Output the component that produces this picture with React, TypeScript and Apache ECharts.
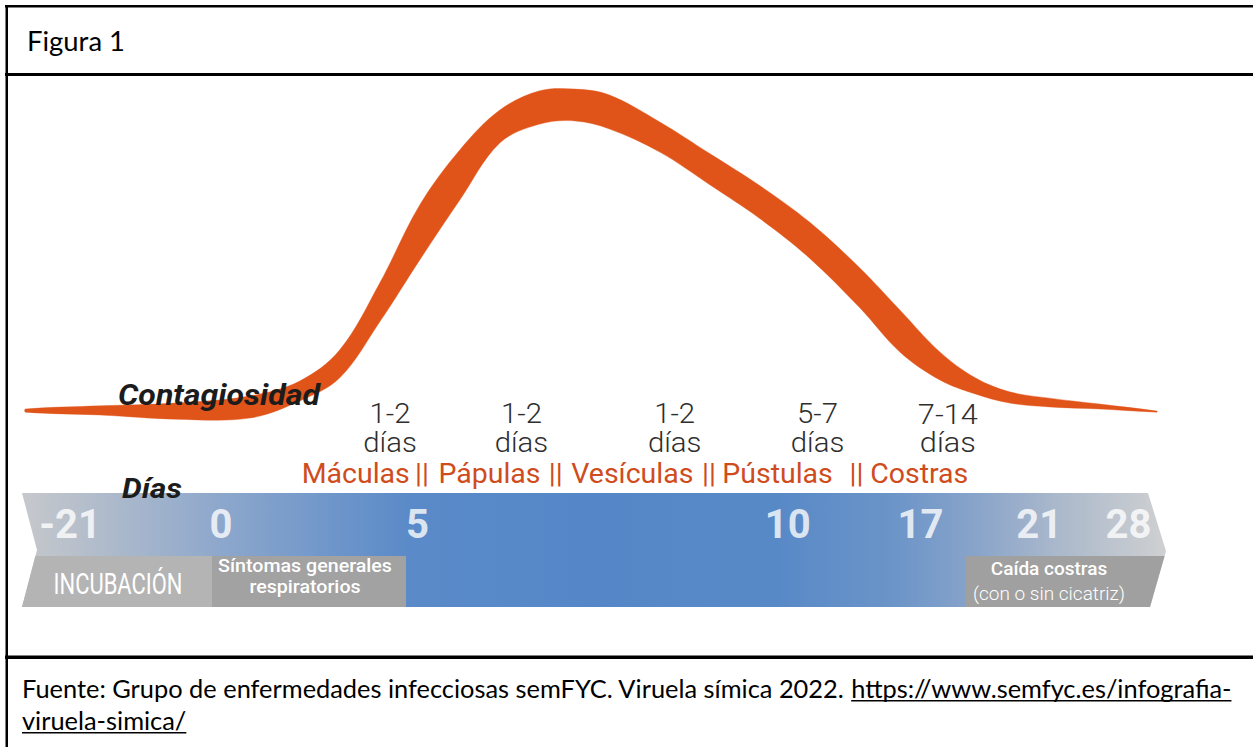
import React, { useEffect, useRef } from "react";
import * as echarts from "echarts";

// Curve samples: position along the day arrow (0-100) and the two edges of the contagiousness ribbon (0-100)
const curveX = [0.3, 6.8, 13.4, 19.9, 24.3, 27.8, 31.3, 34.8, 38.3, 41.8, 45.3, 48.4, 51.4, 55.8, 60.2, 64.6, 68.9, 73.3, 76.8, 80.3, 83.4, 86.4, 89.9, 94.3, 99.3];
const upperEdge = [6.0, 6.9, 7.7, 9.7, 14.0, 22.9, 42.0, 64.3, 80.0, 91.4, 96.9, 97.4, 95.7, 88.0, 78.9, 69.7, 59.4, 46.3, 34.3, 22.3, 14.9, 10.9, 9.1, 7.4, 5.4];
const lowerEdge = [5.1, 4.3, 3.1, 3.4, 8.3, 14.9, 30.9, 48.6, 65.7, 82.0, 87.4, 88.3, 86.0, 79.4, 70.0, 60.3, 49.1, 34.9, 22.3, 14.3, 10.3, 7.7, 6.6, 6.0, 5.1];

// Day ticks on the arrow
const dayTicks = ["-21", "0", "5", "10", "17", "21", "28"];
const dayTickPos = [4.2, 17.4, 34.6, 67.0, 78.6, 89.0, 96.8];

// Lesion phases and their durations
const phases = ["Máculas", "Pápulas", "Vesículas", "Pústulas", "Costras"];
const phasePos = [29.2, 40.9, 53.4, 66.1, 78.5];
const phaseSepPos = [35.0, 46.7, 60.1, 73.0];
const durations = ["1-2", "1-2", "1-2", "5-7", "7-14"];
const durationPos = [32.2, 43.7, 57.1, 69.6, 81.0];

const titleText = "Figura 1";
const captionPlain = "Fuente: Grupo de enfermedades infecciosas semFYC. Viruela símica 2022. ";
const captionLink1 = "https://www.semfyc.es/infografia-";
const captionLink2 = "viruela-simica/";

const ORANGE = "#e0541a";
const PHASE_RED = "#cf4c1d";

function measure(text: string, font: string): number {
  const c = document.createElement("canvas").getContext("2d") as CanvasRenderingContext2D;
  c.font = font;
  return c.measureText(text).width;
}

function txt(text: string, x: number, y: number, o: any = {}) {
  const fontSize = o.fontSize || 20;
  const fontFamily = o.fontFamily || "Roboto";
  const fontWeight = o.fontWeight || "normal";
  const fontStyle = o.fontStyle || "normal";
  let scaleX = 1;
  if (o.fitWidth) {
    const w = measure(o.measureText || text.split("\n")[0], `${fontStyle} ${fontWeight} ${fontSize}px ${fontFamily}`);
    scaleX = o.fitWidth / w;
  }
  const align = o.align || "center";
  const style: any = {
    text,
    x: 0,
    y: 0,
    fill: o.fill || "#000",
    fontSize,
    fontFamily,
    fontWeight,
    fontStyle,
    opacity: o.opacity == null ? 1 : o.opacity,
    align,
    textAlign: align,
    verticalAlign: "middle",
    textVerticalAlign: "middle",
  };
  if (o.lineHeight) style.lineHeight = o.lineHeight;
  if (o.rich) style.rich = o.rich;
  return { type: "text", x, y, scaleX, z: 100, silent: true, style };
}

export default function App() {
  const ref = useRef<HTMLDivElement>(null);
  useEffect(() => {
    document.body.style.margin = "0";
    const el = ref.current as HTMLDivElement;
    const chart = echarts.init(el, null, { renderer: "svg" });
    const GL = 22;
    const GR = 1253 - 1165;
    chart.setOption({
      animation: false,
      backgroundColor: "#ffffff",
      grid: [
        { left: GL, right: GR, top: 80, height: 350 },
        { left: GL, right: GR, top: 493, height: 114 },
      ],
      xAxis: [
        { type: "value", gridIndex: 0, min: 0, max: 100, show: false },
        { type: "value", gridIndex: 1, min: 0, max: 100, show: false },
      ],
      yAxis: [
        { type: "value", gridIndex: 0, min: 0, max: 100, show: false },
        { type: "value", gridIndex: 1, min: 0, max: 1, show: false },
      ],
      series: [
        {
          // contagiousness ribbon between its upper and lower edge
          type: "custom",
          xAxisIndex: 0,
          yAxisIndex: 0,
          z: 2,
          clip: false,
          silent: true,
          data: [[curveX[0], lowerEdge[0]]],
          renderItem: (_params: any, api: any) => {
            const top = curveX.map((x, i) => api.coord([x, upperEdge[i]]));
            const bottom = curveX.map((x, i) => api.coord([x, lowerEdge[i]])).reverse();
            return {
              type: "polygon",
              shape: { points: top.concat(bottom), smooth: 0.35 },
              style: { fill: ORANGE, stroke: ORANGE, lineWidth: 0.4 },
            };
          },
        },
        {
          type: "scatter",
          xAxisIndex: 1,
          yAxisIndex: 1,
          z: 10,
          symbolSize: 1,
          itemStyle: { color: "rgba(0,0,0,0)" },
          data: dayTickPos.map((t) => [t, 0.72]),
          label: {
            show: true,
            position: "inside",
            formatter: (p: any) => dayTicks[p.dataIndex],
            color: "#ffffff",
            fontFamily: "Roboto",
            fontWeight: "bold",
            fontSize: 40,
          },
          silent: true,
        },
      ],
    });

    const px = (t: number) => chart.convertToPixel({ xAxisIndex: 0 }, t) as number;

    // caption sizing
    const capBase = 24;
    const capW = measure(captionPlain + captionLink1, `${capBase}px Lato`);
    const capFs = (capBase * 1210) / capW;
    const plainW = measure(captionPlain, `${capFs}px Lato`);
    const link1W = measure(captionLink1, `${capFs}px Lato`);
    const link2W = measure(captionLink2, `${capFs}px Lato`);
    const titleFs = (27 * 98) / measure(titleText, `27px Lato`);

    const bandFill = {
      type: "linear",
      x: 0,
      y: 0,
      x2: 1,
      y2: 0,
      colorStops: [
        { offset: 0, color: "#c6c8cb" },
        { offset: 0.06, color: "#b3bdcb" },
        { offset: 0.17, color: "#8ea8cc" },
        { offset: 0.27, color: "#6f96ca" },
        { offset: 0.34, color: "#5a8ac8" },
        { offset: 0.5, color: "#5587c8" },
        { offset: 0.66, color: "#5889c7" },
        { offset: 0.76, color: "#6b94c8" },
        { offset: 0.83, color: "#87a3ca" },
        { offset: 0.9, color: "#a8b7cb" },
        { offset: 1, color: "#cfd0d1" },
      ],
    };

    const graphic: any[] = [
      // frame
      { type: "rect", z: 50, silent: true, shape: { x: 5, y: 5, width: 1248, height: 2.5 }, style: { fill: "#000" } },
      { type: "rect", z: 50, silent: true, shape: { x: 5, y: 73, width: 1248, height: 3 }, style: { fill: "#000" } },
      { type: "rect", z: 50, silent: true, shape: { x: 5, y: 655.5, width: 1248, height: 3.5 }, style: { fill: "#000" } },
      { type: "rect", z: 50, silent: true, shape: { x: 5.5, y: 5, width: 2.5, height: 742 }, style: { fill: "#000" } },
      txt(titleText, 27, 40, { fontFamily: "Lato", fontSize: titleFs, align: "left", fill: "#000" }),
      // day arrow
      {
        type: "polygon",
        z: 1,
        silent: true,
        shape: { points: [[22, 493], [1148, 493], [1166, 551], [1150, 607], [22, 607], [37, 550]] },
        style: { fill: bandFill },
      },
      { type: "polygon", z: 2, silent: true, shape: { points: [[35.4, 556], [212, 556], [212, 607], [22, 607]] }, style: { fill: "#b4b4b4" } },
      { type: "polygon", z: 2, silent: true, shape: { points: [[212, 556], [406, 556], [406, 607], [212, 607]] }, style: { fill: "#a2a2a2" } },
      { type: "polygon", z: 2, silent: true, shape: { points: [[966, 556], [1164.6, 556], [1150, 607], [966, 607]] }, style: { fill: "#a0a0a0" } },
      txt("INCUBACIÓN", 118, 584, { fontSize: 29, fill: "#ffffff", fitWidth: 129 }),
      txt("Síntomas generales\nrespiratorios", 305, 576, { fontSize: 19, fontWeight: 500, fill: "#ffffff", fitWidth: 174, lineHeight: 21 }),
      txt("{a|Caída costras}\n{b|(con o sin cicatriz)}", 1049, 581, {
        fontSize: 19,
        fill: "#ffffff",
        rich: {
          a: { fontFamily: "Roboto", fontSize: 19, fontWeight: 500, fill: "#ffffff", color: "#ffffff", lineHeight: 25 },
          b: { fontFamily: "Roboto", fontSize: 19, fontWeight: 300, fill: "#ffffff", color: "#ffffff", lineHeight: 25 },
        },
      }),
      // labels
      txt("Contagiosidad", 118, 395, { fontSize: 30, fontWeight: "bold", fontStyle: "italic", fill: "#1c1c1c", align: "left", fitWidth: 202 }),
      txt("Días", 122, 488, { fontSize: 28, fontWeight: "bold", fontStyle: "italic", fill: "#1c1c1c", align: "left", fitWidth: 60 }),
    ];

    durations.forEach((d, i) => {
      graphic.push(txt(d + "\ndías", px(durationPos[i]), 428.5, { fontSize: 27, fontWeight: 300, fill: "#2e2e2e", lineHeight: 28.5, fitWidth: d === "7-14" ? 60 : 41, measureText: d }));
    });
    phases.forEach((p, i) => {
      graphic.push(txt(p, px(phasePos[i]), 473, { fontSize: 28.5, fill: PHASE_RED }));
    });
    phaseSepPos.forEach((t) => {
      graphic.push(txt("||", px(t), 473, { fontSize: 28.5, fill: PHASE_RED }));
    });

    // caption
    const capY1 = 688;
    const capY2 = 720;
    graphic.push(txt(captionPlain, 22, capY1, { fontFamily: "Lato", fontSize: capFs, align: "left" }));
    graphic.push(txt(captionLink1, 22 + plainW, capY1, { fontFamily: "Lato", fontSize: capFs, align: "left" }));
    graphic.push(txt(captionLink2, 22, capY2, { fontFamily: "Lato", fontSize: capFs, align: "left" }));
    graphic.push({ type: "rect", z: 50, silent: true, shape: { x: 22 + plainW, y: 700, width: link1W, height: 1.6 }, style: { fill: "#000" } });
    graphic.push({ type: "rect", z: 50, silent: true, shape: { x: 22, y: 732, width: link2W, height: 1.6 }, style: { fill: "#000" } });

    chart.setOption({ graphic });
    return () => chart.dispose();
  }, []);
  return <div ref={ref} style={{ width: 1253, height: 747 }} />;
}
